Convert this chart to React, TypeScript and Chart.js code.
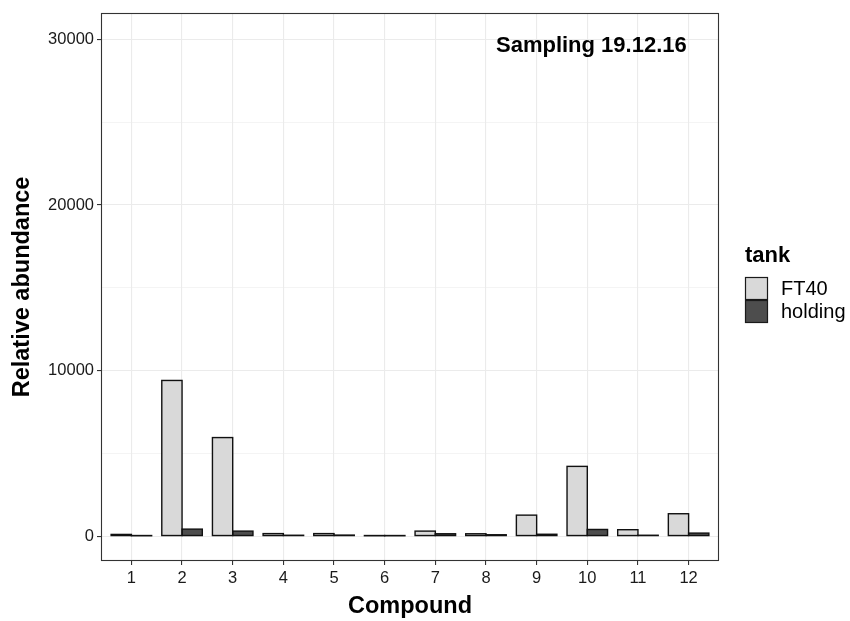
import React, { useEffect, useRef } from "react";
import { Chart, registerables } from "chart.js";

Chart.register(...registerables);

const compounds = [1, 2, 3, 4, 5, 6, 7, 8, 9, 10, 11, 12];
const ft40Values = [100, 9400, 5950, 150, 150, 20, 300, 140, 1265, 4210, 385, 1350];
const holdingValues = [20, 420, 300, 50, 60, 20, 140, 80, 110, 400, 50, 180];
const yTickValues = [0, 5000, 10000, 15000, 20000, 25000, 30000];
const seriesNames = ["FT40", "holding"];
const seriesFills = ["#D9D9D9", "#4D4D4D"];
const annotationText = "Sampling 19.12.16";
const legendTitle = "tank";
const xTitle = "Compound";
const yTitle = "Relative abundance";

const FONT = "'Liberation Sans', Arial, Helvetica, sans-serif";

const barOutlinePlugin = {
  id: "barOutline",
  afterDatasetsDraw(chart: any) {
    const { ctx } = chart;
    ctx.save();
    ctx.strokeStyle = "#111111";
    ctx.lineWidth = 1.4;
    chart.data.datasets.forEach((_d: any, di: number) => {
      const meta = chart.getDatasetMeta(di);
      meta.data.forEach((el: any) => {
        const p = el.getProps(["x", "y", "base", "width"], true);
        const left = p.x - p.width / 2;
        const top = Math.min(p.y, p.base);
        const h = Math.abs(p.base - p.y);
        ctx.strokeRect(left, top, p.width, h);
      });
    });
    ctx.restore();
  },
};

const overlayPlugin = {
  id: "overlay",
  afterDraw(chart: any) {
    const { ctx, chartArea } = chart;
    const xs = chart.scales.x;
    const ys = chart.scales.y;
    ctx.save();
    // panel border
    ctx.strokeStyle = "#333333";
    ctx.lineWidth = 1.1;
    ctx.strokeRect(
      Math.round(chartArea.left) + 0.5,
      Math.round(chartArea.top) + 0.5,
      Math.round(chartArea.right - chartArea.left) - 1,
      Math.round(chartArea.bottom - chartArea.top) - 1
    );
    // annotation
    ctx.fillStyle = "#000000";
    ctx.font = `bold 22px ${FONT}`;
    ctx.textAlign = "center";
    ctx.textBaseline = "middle";
    ctx.fillText(annotationText, xs.getPixelForValue(10.08), ys.getPixelForValue(29600));
    // axis titles
    ctx.font = `bold 23.5px ${FONT}`;
    ctx.fillText(xTitle, (chartArea.left + chartArea.right) / 2, 607);
    ctx.save();
    ctx.translate(22.5, (chartArea.top + chartArea.bottom) / 2);
    ctx.rotate(-Math.PI / 2);
    ctx.fillText(yTitle, 0, 0);
    ctx.restore();
    // legend
    ctx.textAlign = "left";
    ctx.font = `bold 22px ${FONT}`;
    ctx.fillText(legendTitle, 745, 256);
    ctx.font = `20px ${FONT}`;
    seriesNames.forEach((name, i) => {
      const y0 = 277 + i * 23;
      ctx.fillStyle = seriesFills[i];
      ctx.fillRect(745, y0, 23, 23);
      ctx.strokeStyle = "#1A1A1A";
      ctx.lineWidth = 1.2;
      ctx.strokeRect(745.5, y0 + 0.5, 22, 22);
      ctx.fillStyle = "#000000";
      ctx.fillText(name, 781, y0 + 12);
    });
    ctx.restore();
  },
};

export default function App() {
  const canvasRef = useRef<HTMLCanvasElement | null>(null);

  useEffect(() => {
    const canvas = canvasRef.current;
    if (!canvas) return;
    const chart = new Chart(canvas, {
      type: "bar",
      data: {
        datasets: [
          {
            label: seriesNames[0],
            data: compounds.map((c, i) => ({ x: c, y: ft40Values[i] })),
            backgroundColor: seriesFills[0],
            borderWidth: 0,
            categoryPercentage: 0.8,
            barPercentage: 1.0,
          },
          {
            label: seriesNames[1],
            data: compounds.map((c, i) => ({ x: c, y: holdingValues[i] })),
            backgroundColor: seriesFills[1],
            borderWidth: 0,
            categoryPercentage: 0.8,
            barPercentage: 1.0,
          },
        ],
      },
      options: {
        animation: false,
        responsive: false,
        maintainAspectRatio: false,
        layout: { padding: { left: 0, top: 10, right: 131, bottom: 0 } },
        plugins: {
          legend: { display: false },
          tooltip: { enabled: false },
          title: { display: false },
        },
        scales: {
          x: {
            type: "linear",
            min: 0.4,
            max: 12.6,
            offset: false,
            afterBuildTicks: (s: any) => {
              s.ticks = compounds.map((v) => ({ value: v }));
            },
            afterFit: (s: any) => {
              s.height = 60;
            },
            grid: {
              offset: false,
              color: "#EBEBEB",
              lineWidth: 1.1,
              drawTicks: true,
              tickLength: 4,
              tickColor: "#333333",
              tickWidth: 1.1,
            },
            border: { display: false },
            ticks: {
              color: "#1A1A1A",
              font: { family: FONT, size: 16.5 },
              padding: 4,
              maxRotation: 0,
              autoSkip: false,
              callback: (v: any) => String(v),
            },
          },
          y: {
            type: "linear",
            min: -1505,
            max: 31600,
            afterBuildTicks: (s: any) => {
              s.ticks = yTickValues.map((v) => ({ value: v }));
            },
            afterFit: (s: any) => {
              s.width = 101;
            },
            grid: {
              color: "#EBEBEB",
              lineWidth: (c: any) => (c.tick && c.tick.value % 10000 === 0 ? 1.1 : 0.55),
              drawTicks: true,
              tickLength: 4,
              tickColor: (c: any) =>
                c.tick && c.tick.value % 10000 === 0 ? "#333333" : "rgba(0,0,0,0)",
              tickWidth: 1.1,
            },
            border: { display: false },
            ticks: {
              color: "#1A1A1A",
              font: { family: FONT, size: 16.5 },
              padding: 3,
              autoSkip: false,
              callback: (v: any) => (Number(v) % 10000 === 0 ? String(v) : ""),
            },
          },
        },
      },
      plugins: [barOutlinePlugin, overlayPlugin],
    });
    return () => chart.destroy();
  }, []);

  return (
    <div style={{ position: "absolute", left: 0, top: 0, width: 850, height: 621, background: "#ffffff" }}>
      <canvas ref={canvasRef} width={850} height={621} style={{ width: 850, height: 621, display: "block" }} />
    </div>
  );
}
